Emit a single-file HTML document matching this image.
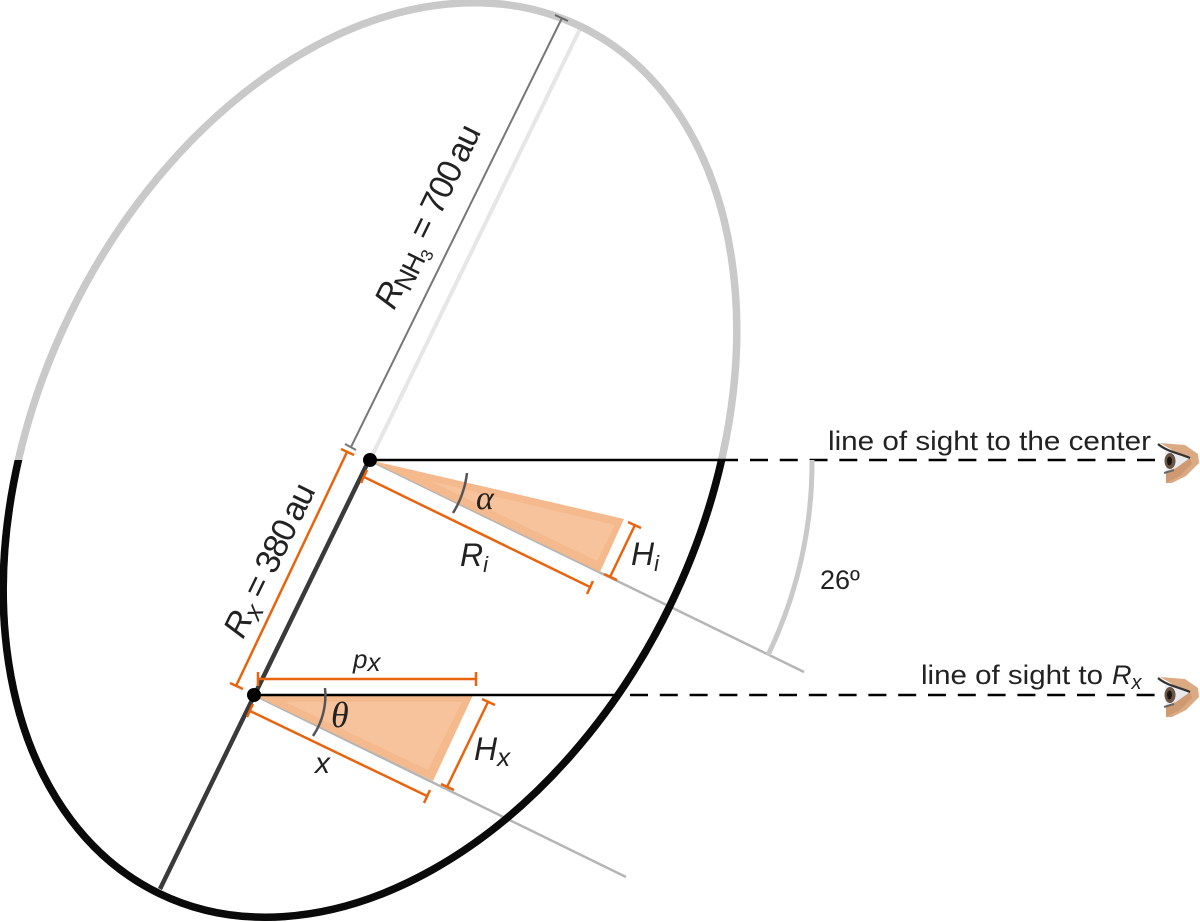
<!DOCTYPE html>
<html>
<head>
<meta charset="utf-8">
<style>
html,body{margin:0;padding:0;background:#fff;overflow:hidden;width:1200px;height:922px}
svg{display:block}
text{font-family:"Liberation Sans",sans-serif;fill:#222}
.i{font-style:italic}
</style>
</head>
<body>
<svg width="1200" height="922" viewBox="0 0 1200 922" xmlns="http://www.w3.org/2000/svg" style="overflow:hidden">
<defs>
<clipPath id="bot"><rect x="0" y="460" width="1200" height="462"/></clipPath>
<g id="eye">
<polygon points="1160,443 1185,445 1198,454 1199,463 1186,476 1172,483 1166,483 1166,470 1180,458 1172,450" fill="#dcaa82"/>
<polygon points="1190,458 1192,464 1180,476 1166,483 1166,472" fill="#cf9a72"/>
<polygon points="1165,451 1180,453 1190,458 1176,468 1166,472" fill="#eaeaec"/>
<ellipse cx="1170" cy="461" rx="5.5" ry="8" fill="#6a5444"/>
<ellipse cx="1169.5" cy="461" rx="2.5" ry="4.5" fill="#1c1512"/>
<path d="M1158,444 C1166,451 1178,453 1190,458" fill="none" stroke="#333" stroke-width="2.2"/>
<path d="M1164,473 L1174,470" fill="none" stroke="#666" stroke-width="2"/>
</g>
</defs>

<!-- axis lines -->
<line x1="370" y1="460" x2="581" y2="27" stroke="#e6e6e6" stroke-width="4"/>
<line x1="369" y1="460" x2="160" y2="889" stroke="#3a3a3a" stroke-width="4.5"/>

<!-- gray sight lines -->
<line x1="369" y1="460" x2="804" y2="672" stroke="#b5b5b5" stroke-width="2.5"/>
<line x1="254" y1="695" x2="626" y2="877" stroke="#b5b5b5" stroke-width="2.5"/>

<!-- ellipse -->
<path d="M581.3,26.8 A333.5,482 26 0 1 669.75,606.2 A333.5,482 26 0 1 158.7,893.2 A333.5,482 26 0 1 70.25,313.8 A333.5,482 26 0 1 581.3,26.8 Z" fill="none" stroke="#c9c9c9" stroke-width="7.5"/>
<g clip-path="url(#bot)">
<path d="M581.3,26.8 A333.5,482 26 0 1 669.75,606.2 A333.5,482 26 0 1 158.7,893.2 A333.5,482 26 0 1 70.25,313.8 A333.5,482 26 0 1 581.3,26.8 Z" fill="none" stroke="#0a0a0a" stroke-width="7.5"/>
</g>

<!-- R_NH3 dimension (over ellipse) -->
<line x1="351" y1="447" x2="562" y2="18" stroke="#777" stroke-width="2"/>
<line x1="555" y1="15" x2="568" y2="21" stroke="#666" stroke-width="2"/>
<line x1="345" y1="444" x2="356" y2="450" stroke="#777" stroke-width="2"/>

<!-- triangles -->
<polygon points="369,460 624,519 600,572" fill="#f4b98c"/>
<polygon points="430,481 615,525 597,561" fill="#f7c39c"/>
<polygon points="254,695 473,695 433,781" fill="#f4b98c"/>
<polygon points="285,702 462,702 428,770" fill="#f7c39c"/>

<!-- los lines -->
<line x1="369" y1="460" x2="738" y2="460" stroke="#000" stroke-width="2.5"/>
<line x1="750" y1="460" x2="1156" y2="460" stroke="#000" stroke-width="2.5" stroke-dasharray="18 11.77"/>
<line x1="254" y1="695" x2="618" y2="695" stroke="#000" stroke-width="2.5"/>
<line x1="630" y1="695" x2="1157" y2="695" stroke="#000" stroke-width="2.5" stroke-dasharray="18 11.8"/>

<!-- 26 deg arc -->
<path d="M812,460 A443,443 0 0 1 768,655" fill="none" stroke="#c9c9c9" stroke-width="5"/>

<!-- angle arcs -->
<path d="M467,473 A98,98 0 0 1 453,513" fill="none" stroke="#555" stroke-width="2.5"/>
<path d="M325,688 A72,72 0 0 1 313,736" fill="none" stroke="#555" stroke-width="2.5"/>

<!-- orange dims -->
<g stroke="#e8640f" stroke-width="2.5" fill="none">
<line x1="347" y1="452" x2="236" y2="686"/>
<line x1="341" y1="449" x2="354" y2="455"/>
<line x1="230" y1="683" x2="243" y2="689"/>
<line x1="364" y1="477" x2="590" y2="587"/>
<line x1="367" y1="470" x2="361" y2="483"/>
<line x1="593" y1="581" x2="587" y2="594"/>
<line x1="635" y1="525" x2="610" y2="577"/>
<line x1="628" y1="522" x2="641" y2="528"/>
<line x1="604" y1="574" x2="617" y2="580"/>
<line x1="258" y1="679" x2="476" y2="679"/>
<line x1="258" y1="672" x2="258" y2="686"/>
<line x1="476" y1="672" x2="476" y2="686"/>
<line x1="488" y1="702" x2="447" y2="787"/>
<line x1="482" y1="699" x2="495" y2="705"/>
<line x1="441" y1="784" x2="454" y2="790"/>
<line x1="250" y1="711" x2="427" y2="796"/>
<line x1="253" y1="704" x2="247" y2="717"/>
<line x1="430" y1="790" x2="424" y2="803"/>
</g>

<!-- dots -->
<circle cx="370" cy="460" r="7" fill="#000"/>
<circle cx="254" cy="695" r="7" fill="#000"/>

<!-- labels -->
<text x="828" y="450" font-size="27" textLength="323" lengthAdjust="spacingAndGlyphs">line of sight to the center</text>
<text x="921" y="684" font-size="27" textLength="182" lengthAdjust="spacingAndGlyphs">line of sight to</text>
<text x="1112" y="684" font-size="27" class="i">R<tspan font-size="20" dy="5">x</tspan></text>
<text x="820" y="589" font-size="27">26º</text>

<text transform="translate(394,311) rotate(-64)" font-size="34" letter-spacing="-1.2"><tspan class="i">R</tspan><tspan font-size="27" dy="6">NH</tspan><tspan font-size="17" dy="5">3</tspan><tspan dy="-11" dx="9">=</tspan><tspan dx="9">700</tspan><tspan dx="5">au</tspan></text>
<text transform="translate(243,640) rotate(-64)" font-size="34" letter-spacing="-1.2"><tspan class="i">R</tspan><tspan class="i" font-size="26" dy="6">x</tspan><tspan dy="-6" dx="9">=</tspan><tspan dx="9">380</tspan><tspan dx="5">au</tspan></text>

<text x="460" y="566" font-size="32" class="i">R<tspan font-size="22" dy="6">i</tspan></text>
<text x="631" y="565" font-size="32" class="i">H<tspan font-size="22" dy="6">i</tspan></text>
<text x="476" y="509" font-size="34" style="font-family:'Liberation Serif',serif" class="i">α</text>
<text x="331" y="727" font-size="36" style="font-family:'Liberation Serif',serif" class="i">θ</text>
<text x="353" y="668" font-size="26" class="i">p<tspan font-size="26" dy="3">x</tspan></text>
<text x="474" y="760" font-size="32" class="i">H<tspan font-size="26" dy="6">x</tspan></text>
<text x="315" y="773" font-size="30" class="i">x</text>

<!-- eyes -->
<use href="#eye"/>
<use href="#eye" transform="translate(0,234)"/>
</svg>
</body>
</html>
